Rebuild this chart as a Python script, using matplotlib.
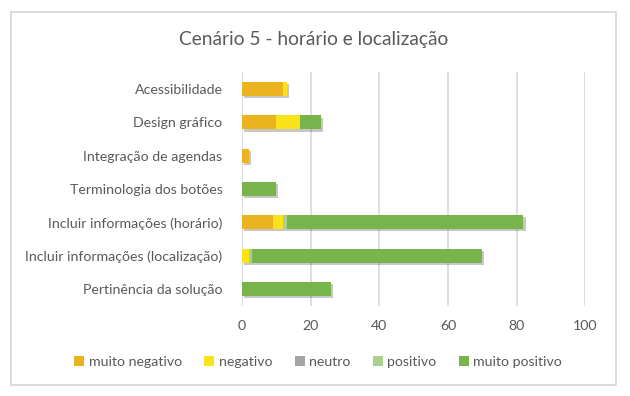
import numpy as np
import matplotlib.pyplot as plt
import matplotlib.patheffects as pe
from matplotlib.patches import Rectangle, Patch

plt.rcParams['font.family'] = ['Lato', 'DejaVu Sans']

# Dados do gráfico
categorias = ["Acessibilidade", "Design gráfico", "Integração de agendas",
              "Terminologia dos botões", "Incluir informações (horário)",
              "Incluir informações (localização)", "Pertinência da solução"]
muito_negativo = [12, 10, 2, 0, 9, 0, 0]
negativo = [1, 7, 0, 0, 3, 2, 0]
neutro = [0, 0, 0, 0, 0, 0, 0]
positivo = [0, 0, 0, 0, 1, 1, 0]
muito_positivo = [0, 6, 0, 10, 69, 67, 26]

series = [("muito negativo", muito_negativo, "#EBB41E"),
          ("negativo", negativo, "#FBE31B"),
          ("neutro", neutro, "#A5A5A5"),
          ("positivo", positivo, "#A9D08E"),
          ("muito positivo", muito_positivo, "#77B54C")]

fig = plt.figure(figsize=(6.3, 3.96), dpi=100)
ax = fig.add_axes([0.384, 0.228, 0.545, 0.589])

# Moldura do gráfico
fig.patches.append(Rectangle((0.0175, 0.028), 0.960, 0.942, transform=fig.transFigure,
                             fill=False, edgecolor="#D4D4D4", linewidth=1.2))

y = np.arange(len(categorias))
esquerda = np.zeros(len(categorias))
sombra = [pe.SimplePatchShadow(offset=(1.5, -1.5), shadow_rgbFace="#000000", alpha=0.22),
          pe.Normal()]
handles = []
for nome, valores, cor in series:
    valores = np.array(valores, dtype=float)
    barras = ax.barh(y, valores, left=esquerda, height=0.42, color=cor, zorder=3)
    for b, v in zip(barras, valores):
        if v > 0:
            b.set_path_effects(sombra)
    esquerda += valores
    handles.append(Patch(facecolor=cor, label=nome))

ax.set_yticks(y)
ax.set_yticklabels(categorias)
ax.set_ylim(len(categorias) - 0.5, -0.5)
ax.set_xlim(0, 100)
ax.set_xticks(np.arange(0, 101, 20))
ax.grid(axis="x", color="#D9D9D9", linewidth=1.2, zorder=0)
for s in ax.spines.values():
    s.set_visible(False)
ax.tick_params(length=0, labelsize=10.2, colors="#595959")
ax.tick_params(axis="y", pad=14)
ax.tick_params(axis="x", pad=10)

fig.text(0.498, 0.9, "Cenário 5 - horário e localização", ha="center", va="center",
         fontsize=13.8, color="#595959")

ax.legend(handles=handles, loc="center", bbox_to_anchor=(0.505, 0.086),
          bbox_transform=fig.transFigure, ncol=5, frameon=False, fontsize=10.2,
          labelcolor="#595959", handlelength=0.7, handleheight=0.7,
          handletextpad=0.3, columnspacing=1.6)

plt.savefig("out.png", dpi=100)
